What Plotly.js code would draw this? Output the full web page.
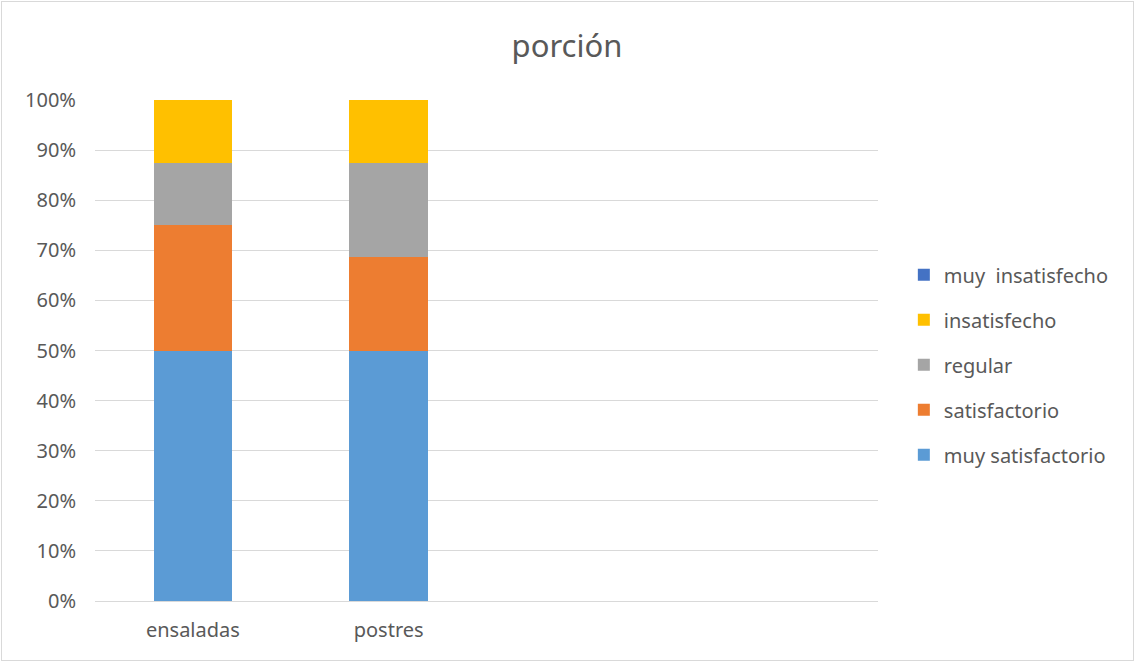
<!DOCTYPE html>
<html>
<head>
<meta charset="utf-8">
<script src="https://cdn.plot.ly/plotly-3.0.1.min.js"></script>
<style>
  html, body { margin: 0; padding: 0; background: #fff; }
  #wrap { position: relative; width: 1134px; height: 661px; }
  #chart { position: absolute; left: 0; top: 0; width: 1134px; height: 661px; }
  #frame { position: absolute; left: 1px; top: 1px; width: 1131px; height: 658px;
           border: 1px solid #d9d9d9; pointer-events: none; }
</style>
</head>
<body>
<div id="wrap">
  <div id="chart"></div>
  <div id="frame"></div>
</div>
<script>
// Survey on portion size, share of answers per dish
const categories = ["ensaladas", "postres"];
const seriesNames = ["muy satisfactorio", "satisfactorio", "regular", "insatisfecho", "muy  insatisfecho"];
const muySatisfactorio = [0.50, 0.50];
const satisfactorio = [0.25, 0.1875];
const regular = [0.125, 0.1875];
const insatisfecho = [0.125, 0.125];
const muyInsatisfecho = [0, 0];
const seriesColors = ["#5B9BD5", "#ED7D31", "#A5A5A5", "#FFC000", "#4472C4"];
const yTickVals = [0, 0.1, 0.2, 0.3, 0.4, 0.5, 0.6, 0.7, 0.8, 0.9, 1.0];

const allSeries = [muySatisfactorio, satisfactorio, regular, insatisfecho, muyInsatisfecho];
const font = "Noto Sans, Open Sans, sans-serif";
const textColor = "#595959";

const traces = allSeries.map((vals, i) => ({
  type: "bar",
  name: seriesNames[i],
  x: categories,
  y: vals,
  legendgroup: "g" + i,
  legendrank: 1000 - i,
  marker: { color: seriesColors[i], line: { width: 0 } },
  hoverinfo: "skip"
}));

const layout = {
  width: 1134,
  height: 661,
  margin: { l: 95, r: 256, t: 100, b: 60 },
  paper_bgcolor: "#ffffff",
  plot_bgcolor: "#ffffff",
  barmode: "stack",
  bargap: 0.6,
  font: { family: font, color: textColor, size: 20 },
  title: {
    text: "porción",
    font: { family: font, size: 31, color: textColor },
    xref: "paper", x: 0.5 * 1134 / 783 - 95 / 783, xanchor: "center",
    yref: "container", y: 1 - 46 / 661, yanchor: "middle"
  },
  xaxis: {
    type: "category",
    range: [-0.5, 3.5],
    showgrid: false,
    showline: false,
    zeroline: false,
    ticks: "",
    ticklabelstandoff: 15,
    tickfont: { family: font, size: 20, color: textColor },
    fixedrange: true
  },
  yaxis: {
    range: [0, 1.0],
    tickvals: yTickVals,
    tickformat: ".0%",
    showgrid: true,
    gridcolor: "#d9d9d9",
    gridwidth: 1,
    zeroline: true,
    zerolinecolor: "#d9d9d9",
    zerolinewidth: 1,
    showline: false,
    ticks: "",
    ticklabelstandoff: 18,
    tickfont: { family: font, size: 20, color: textColor },
    fixedrange: true
  },
  showlegend: true,
  legend: {
    traceorder: "grouped",
    tracegroupgap: 16,
    itemwidth: 30,
    xref: "paper", x: 1.033, xanchor: "left",
    yref: "paper", y: 0.69, yanchor: "top",
    font: { family: font, size: 20, color: textColor },
    bgcolor: "rgba(0,0,0,0)",
    itemclick: false,
    itemdoubleclick: false
  }
};

Plotly.newPlot("chart", traces, layout, { displayModeBar: false, staticPlot: true });
</script>
</body>
</html>
